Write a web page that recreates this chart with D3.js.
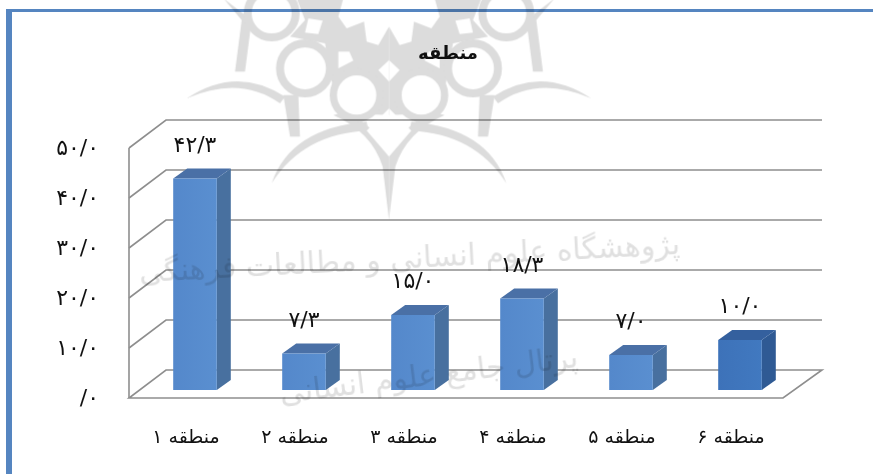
<!DOCTYPE html>
<html>
<head>
  <meta charset="utf-8">
  <title>منطقه</title>
  <script src="https://d3js.org/d3.v7.min.js"></script>
  <style>
    html, body { margin: 0; padding: 0; background: #fff; overflow: hidden; }
    svg { display: block; filter: blur(0.35px); }
    text { font-family: "DejaVu Sans", sans-serif; fill: #111; }
    .tick text { direction: ltr; }
    .domain { display: none; }
    .grid { fill: none; stroke: #8e8e8e; stroke-width: 1.6; }
    .wm-fill { fill: #dcdcdc; stroke: none; }
    .wm-hole { fill: #fff; stroke: none; }
    .wm-ring { fill: #fff; stroke: #dcdcdc; }
    .wm-text { fill: #e0e0e0; font-size: 30px; direction: rtl; }
    #watermark { mix-blend-mode: multiply; }
  </style>
</head>
<body>
  <svg id="chart" width="873" height="474"></svg>
  <script>
    const categories = ["منطقه ۱", "منطقه ۲", "منطقه ۳", "منطقه ۴", "منطقه ۵", "منطقه ۶"];
    const values = [42.3, 7.3, 15.0, 18.3, 7.0, 10.0];
    const valueLabels = ["۴۲/۳", "۷/۳", "۱۵/۰", "۱۸/۳", "۷/۰", "۱۰/۰"];
    const tickValues = [0, 10, 20, 30, 40, 50];
    const tickLabels = ["/۰", "۱۰/۰", "۲۰/۰", "۳۰/۰", "۴۰/۰", "۵۰/۰"];
    const title = "منطقه";

    const svg = d3.select("#chart");

    // 3d box offsets
    const wallDx = 37, wallDy = -28;
    const barDx = 14, barDy = -10;
    const barOffX = 11.5, barOffY = -8;

    const x = d3.scaleBand().domain(categories).range([129, 783]).paddingInner(0.6).paddingOuter(0.3);
    const y = d3.scaleLinear().domain([0, 50]).range([398, 148]);

    const defs = svg.append("defs");
    function frontGrad(id, c0, c1) {
      const g = defs.append("linearGradient").attr("id", id);
      g.append("stop").attr("offset", "0%").attr("stop-color", c0);
      g.append("stop").attr("offset", "100%").attr("stop-color", c1);
    }
    frontGrad("front", "#5488cb", "#5a8fd0");
    frontGrad("frontDark", "#3d72b9", "#4179c0");

    // frame
    svg.append("rect").attr("x", 6).attr("y", 9).attr("width", 867).attr("height", 3).attr("fill", "#5585c0");
    svg.append("rect").attr("x", 6).attr("y", 9).attr("width", 6).attr("height", 465).attr("fill", "#5585c0");

    // title
    svg.append("text").attr("x", 448).attr("y", 59)
      .attr("text-anchor", "middle").attr("direction", "rtl")
      .attr("font-size", 18).attr("font-weight", "bold").text(title);

    // walls and gridlines
    const grid = svg.append("g");
    tickValues.forEach(v => {
      if (v === 0) return;
      grid.append("path").attr("class", "grid")
        .attr("d", d3.line()([[129, y(v)], [129 + wallDx, y(v) + wallDy], [822, y(v) + wallDy]]));
    });
    grid.append("path").attr("class", "grid")
      .attr("d", d3.line()([[129, y(50)], [129, y(0)]]));
    grid.append("path").attr("class", "grid")
      .attr("d", d3.line()([[129, y(0)], [783, y(0)], [783 + wallDx + 2, y(0) + wallDy], [129 + wallDx, y(0) + wallDy]]) + "Z");

    // axes, labels only
    const yAxis = svg.append("g").attr("transform", "translate(102,0)")
      .call(d3.axisLeft(y).tickValues(tickValues).tickSize(0).tickFormat((d, i) => tickLabels[i]));
    yAxis.selectAll("text").attr("font-size", 22).attr("dy", "0.28em");

    const xAxis = svg.append("g").attr("transform", "translate(2.5,426)")
      .call(d3.axisBottom(x).tickSize(0));
    xAxis.selectAll("text").attr("font-size", 19).attr("direction", "rtl").style("direction", "rtl");

    // bars
    const bars = svg.append("g").selectAll("g").data(values).join("g");
    const fx = i => x(categories[i]) + barOffX;
    const base = y(0) + barOffY;
    const topY = d => y(d) + barOffY;

    bars.append("polygon")
      .attr("fill", (d, i) => i === 5 ? "#2f5a94" : "#48709f")
      .attr("points", (d, i) => {
        const r = fx(i) + x.bandwidth();
        return [[r, topY(d)], [r + barDx, topY(d) + barDy], [r + barDx, base + barDy], [r, base]].join(" ");
      });
    bars.append("polygon")
      .attr("fill", (d, i) => i === 5 ? "#34609e" : "#4a70a6")
      .attr("points", (d, i) => {
        const l = fx(i), r = l + x.bandwidth();
        return [[l, topY(d)], [l + barDx, topY(d) + barDy], [r + barDx, topY(d) + barDy], [r, topY(d)]].join(" ");
      });
    bars.append("rect")
      .attr("x", (d, i) => fx(i))
      .attr("y", d => topY(d))
      .attr("width", x.bandwidth())
      .attr("height", d => base - topY(d))
      .attr("fill", (d, i) => i === 5 ? "url(#frontDark)" : "url(#front)");

    // value labels
    bars.append("text")
      .attr("x", (d, i) => fx(i) + x.bandwidth() / 2)
      .attr("y", d => topY(d) - 27)
      .attr("text-anchor", "middle")
      .attr("font-size", 22)
      .text((d, i) => valueLabels[i]);

    // watermark ornament, multiplied over everything. coordinates are 3x, mirrored around 597
    const wm = svg.append("g").attr("id", "watermark");
    const half = g => {
      const shape = d => g.append("path").attr("class", "wm-fill").attr("d", d);
      const hole = d => g.append("path").attr("class", "wm-hole").attr("d", d);
      const ring = (cx, cy, r, w) => g.append("circle").attr("class", "wm-ring")
        .attr("cx", cx).attr("cy", cy).attr("r", r).attr("stroke-width", w);
      // tapered spikes and crescents
      shape("M-10 295 Q140 195 285 290 L270 310 Q150 225 -10 295 Z");
      shape("M135 215 L155 60 L100 -5 L185 60 L165 215 Z");
      shape("M280 285 L325 285 L330 410 L300 410 Z");
      shape("M245 550 Q300 385 530 365 L535 392 Q340 400 245 550 Z");
      shape("M597 660 L578 500 Q545 395 430 345 L470 335 Q570 390 597 470 Z");
      // central mass
      shape("M597 80 L565 135 L530 125 L522 65 L470 85 L445 50 L460 -5 L320 -5 L345 60 L300 110 L405 130 L430 270 L470 340 L597 345 Z");
      ring(245, 40, 72, 24);
      ring(345, 205, 75, 24);
      ring(500, 285, 70, 22);
      hole("M355 55 L398 62 L385 102 L345 98 Z");
      hole("M445 155 L478 155 L490 182 L445 205 Z");
      hole("M597 180 L565 210 L597 245 Z");
      hole("M597 325 L530 392 L597 470 Z");
    };
    const left = wm.append("g").attr("transform", "translate(190,0) scale(0.3333)");
    left.append("g").attr("transform", "translate(1194,0) scale(-1,1)").call(half);
    left.append("g").call(half);

    // faint watermark text
    wm.append("text").attr("class", "wm-text").attr("text-anchor", "middle")
      .attr("transform", "translate(410,268) rotate(-3)")
      .text("پژوهشگاه علوم انسانی و مطالعات فرهنگی");
    wm.append("text").attr("class", "wm-text").attr("text-anchor", "middle")
      .attr("transform", "translate(430,385) rotate(-7)")
      .text("پرتال جامع علوم انسانی");
  </script>
</body>
</html>
